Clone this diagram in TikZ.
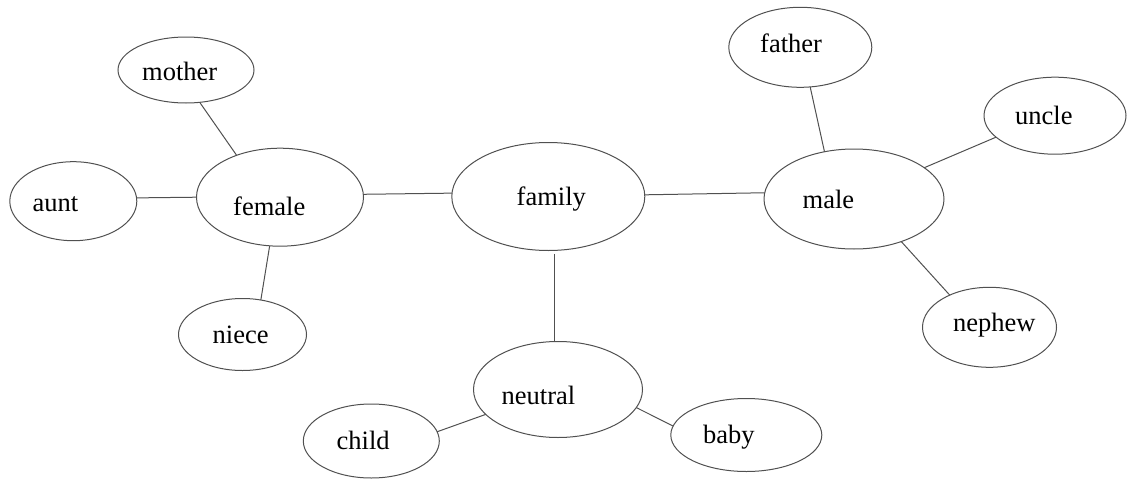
\documentclass[tikz,border=0pt]{standalone}
\usepackage{fontspec}
\setmainfont{Liberation Serif}
\usetikzlibrary{shapes.geometric}
\definecolor{linegray}{HTML}{505050}
\begin{document}
\begin{tikzpicture}[x=1pt,y=-1pt,
  bub/.style={ellipse,draw=linegray,line width=1pt,inner sep=0pt,outer sep=0pt},
  word/.style={anchor=base west,inner sep=0pt,font=\fontsize{26.5}{30}\selectfont},
  conn/.style={draw=linegray,line width=1pt}]
\useasboundingbox (0,0) rectangle (1127,479);
% ellipses
\node[bub,minimum width=136,minimum height=66] (mother) at (186,70) {};
\node[bub,minimum width=127,minimum height=79] (aunt) at (73.3,201.2) {};
\node[bub,minimum width=167,minimum height=98] (female) at (280,197.2) {};
\node[bub,minimum width=128,minimum height=72] (niece) at (242.5,334.5) {};
\node[bub,minimum width=193,minimum height=108] (family) at (548.3,196.5) {};
\node[bub,minimum width=143,minimum height=80] (father) at (800.3,47.3) {};
\node[bub,minimum width=142,minimum height=77] (uncle) at (1055,115.7) {};
\node[bub,minimum width=180,minimum height=100] (male) at (854,199) {};
\node[bub,minimum width=134,minimum height=80] (nephew) at (989.5,327.3) {};
\node[bub,minimum width=169,minimum height=96] (neutral) at (558,389.5) {};
\node[bub,minimum width=136,minimum height=74] (child) at (371.3,441) {};
\node[bub,minimum width=151,minimum height=73] (baby) at (746.3,435) {};
% texts
\node[word] (mother-t) at (142,80.7) {mother};
\node[word] (aunt-t) at (32.5,211.7) {aunt};
\node[word] (female-t) at (233,215) {female};
\node[word] (niece-t) at (212.5,343) {niece};
\node[word] (family-t) at (516.5,205) {family};
\node[word] (father-t) at (760,52.7) {father};
\node[word] (uncle-t) at (1015,124.3) {uncle};
\node[word] (male-t) at (802.5,208.3) {male};
\node[word] (nephew-t) at (953,331) {nephew};
\node[word] (neutral-t) at (501.5,404) {neutral};
\node[word] (child-t) at (336.5,449.3) {child};
\node[word] (baby-t) at (703,443.3) {baby};
% connectors
\draw[conn] (mother.-67.2) -- (female.136);
\draw[conn] (aunt.3.2) -- (female.180);
\draw[conn] (female.-102.4) -- (niece.62.3);
\draw[conn] (female.2.2) -- (family.178.5);
\draw[conn] (family.1.9) -- (male.176.4);
\draw[conn] ([xshift=6pt,yshift=-3.3pt]family.south) -- ([xshift=-3.7pt]neutral.north);
\draw[conn] (neutral.199.1) -- (child.8.9);
\draw[conn] (neutral.-13.2) -- (baby.173.5);
\draw[conn] (father.-76.4) -- (male.122.7);
\draw[conn] (male.24) -- (uncle.200.3);
\draw[conn] (male.-42.9) -- (nephew.141.2);
\end{tikzpicture}
\end{document}
